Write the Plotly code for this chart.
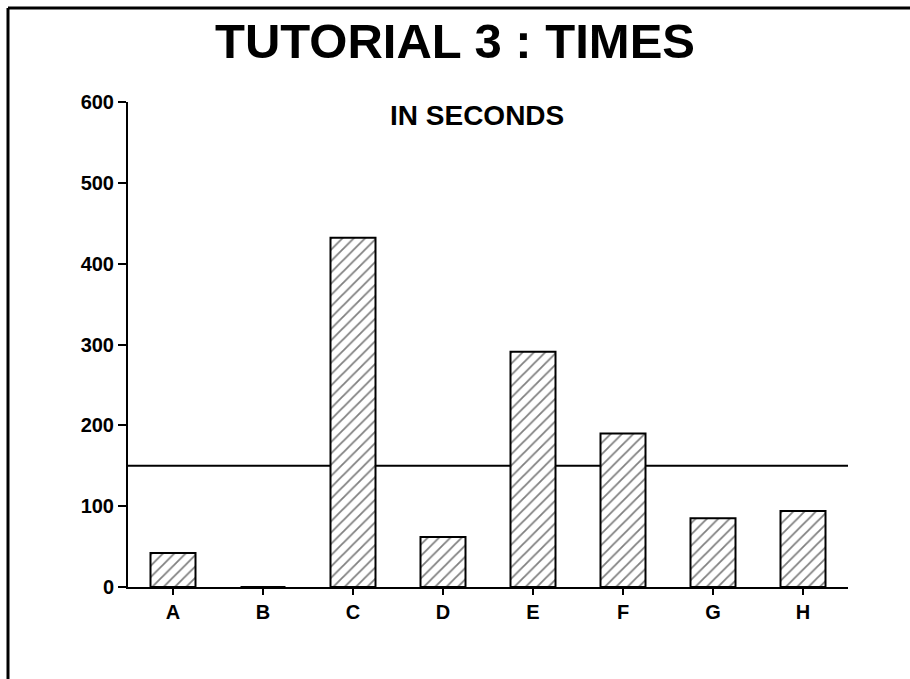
import plotly.graph_objects as go

categories = ["A", "B", "C", "D", "E", "F", "G", "H"]
times = [42, 0, 432, 62, 291, 190, 85, 94]
target = 150
y_ticks = [0, 100, 200, 300, 400, 500, 600]

title_text = "TUTORIAL 3 : TIMES"
subtitle_text = "IN SECONDS"

fig = go.Figure()
fig.add_trace(go.Bar(
    x=categories, y=times, width=0.5,
    marker=dict(
        color="white",
        line=dict(color="black", width=2),
        pattern=dict(shape="/", fgcolor="black", bgcolor="white", size=8, solidity=0.22),
    ),
    showlegend=False,
))

fig.add_hline(y=target, line=dict(color="black", width=2), layer="below")

fig.update_layout(
    width=910, height=679,
    paper_bgcolor="white", plot_bgcolor="white",
    margin=dict(l=128, r=62, t=102, b=92),
    font=dict(family="Liberation Sans, Arial, sans-serif", color="black"),
    title=dict(text=title_text, x=0.5, xanchor="center", y=0.94, yanchor="middle",
               font=dict(size=49, color="black", weight="bold")),
    bargap=0.5,
)

fig.update_xaxes(
    type="category", range=[-0.5, 7.5],
    showline=True, linecolor="black", linewidth=2,
    ticks="outside", ticklen=6, tickcolor="black", tickwidth=1.5,
    showgrid=False, zeroline=False,
    tickfont=dict(size=20, family="Liberation Sans, Arial", color="black", weight="bold"),
)
fig.update_yaxes(
    range=[0, 600], tickvals=y_ticks,
    showline=True, linecolor="black", linewidth=2,
    ticks="outside", ticklen=8, tickcolor="black", tickwidth=1.5,
    showgrid=False, zeroline=False,
    tickfont=dict(size=20, family="Liberation Sans, Arial", color="black", weight="bold"),
)

fig.add_annotation(
    text=subtitle_text, xref="paper", yref="paper",
    x=0.485, y=0.972, xanchor="center", yanchor="middle", showarrow=False,
    font=dict(size=28, family="Liberation Sans, Arial", color="black", weight="bold"),
)

# page frame (top and left edges)
fig.add_shape(type="line", xref="paper", yref="paper",
              x0=-120/720, x1=782/720, y0=1 + 94/485, y1=1 + 94/485,
              line=dict(color="black", width=3))
fig.add_shape(type="line", xref="paper", yref="paper",
              x0=-120/720, x1=-120/720, y0=1 + 94/485, y1=-92/485,
              line=dict(color="black", width=3))

fig.write_html("out.html")
